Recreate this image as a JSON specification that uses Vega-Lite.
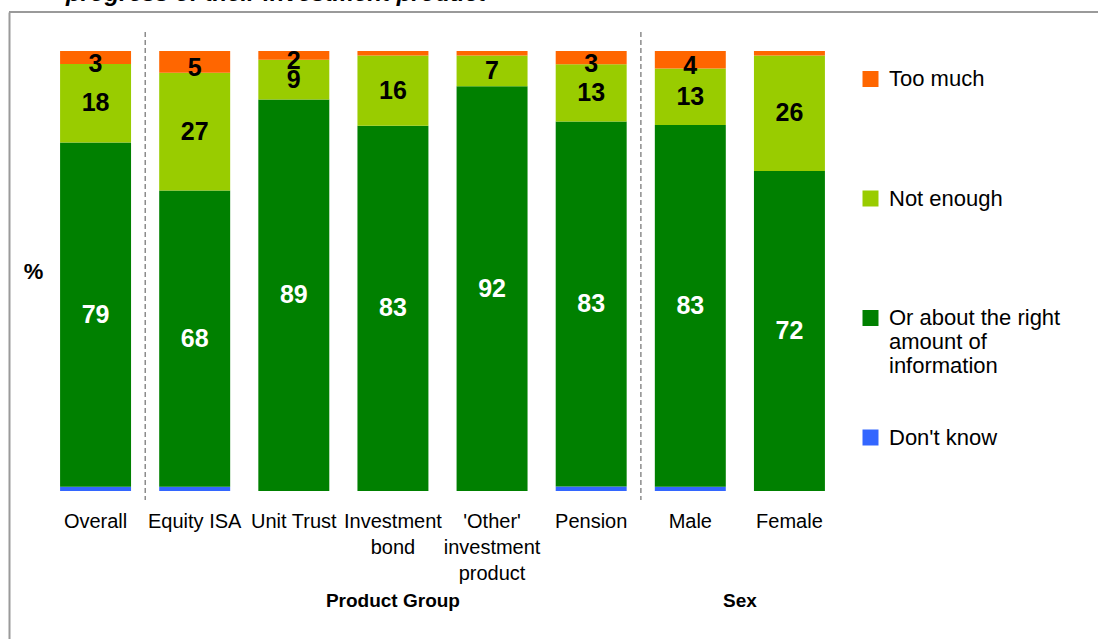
{
  "$schema": "https://vega.github.io/schema/vega-lite/v6.json",
  "width": 1089,
  "height": 627,
  "autosize": {"type": "none"},
  "padding": {"left": 9, "top": 12, "right": 0, "bottom": 0},
  "background": "white",
  "title": {
    "text": "progress of their investment product",
    "anchor": "start",
    "frame": "group",
    "offset": 0,
    "dx": 57,
    "dy": 14,
    "baseline": "alphabetic",
    "font": "Liberation Sans",
    "fontSize": 24,
    "fontStyle": "italic",
    "fontWeight": "bold",
    "color": "black"
  },
  "config": {
    "font": "Liberation Sans",
    "view": {"stroke": null}
  },
  "datasets": {
    "answers": [
      {"group": "Overall", "response": "Don't know", "v": 1},
      {"group": "Overall", "response": "Or about the right amount of information", "v": 79},
      {"group": "Overall", "response": "Not enough", "v": 18},
      {"group": "Overall", "response": "Too much", "v": 3},
      {"group": "Equity ISA", "response": "Don't know", "v": 1},
      {"group": "Equity ISA", "response": "Or about the right amount of information", "v": 68},
      {"group": "Equity ISA", "response": "Not enough", "v": 27},
      {"group": "Equity ISA", "response": "Too much", "v": 5},
      {"group": "Unit Trust", "response": "Don't know", "v": 0},
      {"group": "Unit Trust", "response": "Or about the right amount of information", "v": 89},
      {"group": "Unit Trust", "response": "Not enough", "v": 9},
      {"group": "Unit Trust", "response": "Too much", "v": 2},
      {"group": "Investment bond", "response": "Don't know", "v": 0},
      {"group": "Investment bond", "response": "Or about the right amount of information", "v": 83},
      {"group": "Investment bond", "response": "Not enough", "v": 16},
      {"group": "Investment bond", "response": "Too much", "v": 1},
      {"group": "'Other' investment product", "response": "Don't know", "v": 0},
      {"group": "'Other' investment product", "response": "Or about the right amount of information", "v": 92},
      {"group": "'Other' investment product", "response": "Not enough", "v": 7},
      {"group": "'Other' investment product", "response": "Too much", "v": 1},
      {"group": "Pension", "response": "Don't know", "v": 1},
      {"group": "Pension", "response": "Or about the right amount of information", "v": 83},
      {"group": "Pension", "response": "Not enough", "v": 13},
      {"group": "Pension", "response": "Too much", "v": 3},
      {"group": "Male", "response": "Don't know", "v": 1},
      {"group": "Male", "response": "Or about the right amount of information", "v": 83},
      {"group": "Male", "response": "Not enough", "v": 13},
      {"group": "Male", "response": "Too much", "v": 4},
      {"group": "Female", "response": "Don't know", "v": 0},
      {"group": "Female", "response": "Or about the right amount of information", "v": 72},
      {"group": "Female", "response": "Not enough", "v": 26},
      {"group": "Female", "response": "Too much", "v": 1}
    ],
    "dividers": [{"group": "Overall"}, {"group": "Pension"}],
    "productHeading": [{"group": "Investment bond", "label": "Product Group"}],
    "sexHeading": [{"group": "Male", "label": "Sex"}]
  },
  "resolve": {"scale": {"color": "independent"}},
  "layer": [
    {
      "data": {"values": [{}]},
      "mark": {"type": "rule", "color": "#9a9a9a", "strokeWidth": 2},
      "encoding": {
        "y": {"datum": 1.08864, "type": "quantitative", "scale": {"domain": [-0.33636, 1.08864], "nice": false, "zero": false}}
      }
    },
    {
      "data": {"name": "dividers"},
      "mark": {"type": "rule", "color": "#8c8c8c", "strokeWidth": 1.5, "strokeDash": [5, 3]},
      "encoding": {
        "x": {"field": "group", "type": "nominal", "bandPosition": 1.2},
        "y": {"datum": 1.04318, "type": "quantitative"},
        "y2": {"datum": -0.02045}
      }
    },
    {
      "data": {"name": "answers"},
      "transform": [
        {"calculate": "indexof([\"Don't know\", \"Or about the right amount of information\", \"Not enough\", \"Too much\"], datum.response)", "as": "stackOrder"}
      ],
      "mark": {"type": "bar"},
      "encoding": {
        "x": {
          "field": "group",
          "type": "nominal",
          "sort": null,
          "scale": {
            "domain": ["Overall", "Equity ISA", "Unit Trust", "Investment bond", "'Other' investment product", "Pension", "Male", "Female"],
            "range": [37, 830],
            "paddingInner": 0.284,
            "paddingOuter": 0.142
          },
          "axis": {
            "title": null,
            "orient": "bottom",
            "offset": -118,
            "domain": false,
            "ticks": false,
            "grid": false,
            "labelPadding": 0,
            "labelAngle": 0,
            "labelAlign": "center",
            "labelFontSize": 20,
            "labelColor": "black",
            "labelLineHeight": 26,
            "labelOverlap": false,
            "labelExpr": "datum.label === 'Investment bond' ? ['Investment', 'bond'] : datum.label === \"'Other' investment product\" ? [\"'Other'\", 'investment', 'product'] : datum.label"
          }
        },
        "y": {
          "field": "v",
          "type": "quantitative",
          "stack": "normalize",
          "scale": {"domain": [-0.33636, 1.08864], "nice": false, "zero": false},
          "axis": {
            "title": "%",
            "domain": true,
            "domainColor": "#9a9a9a",
            "domainWidth": 2,
            "ticks": false,
            "labels": false,
            "grid": false,
            "titleAngle": 0,
            "titleX": 24,
            "titleY": 259,
            "titleAlign": "center",
            "titleBaseline": "middle",
            "titleFontSize": 22,
            "titleFontWeight": "bold",
            "titleColor": "black"
          }
        },
        "order": {"field": "stackOrder", "type": "quantitative", "sort": "ascending"},
        "color": {
          "field": "response",
          "type": "nominal",
          "sort": ["Don't know", "Or about the right amount of information", "Not enough", "Too much"],
          "scale": {"range": ["#3366FF", "#008000", "#99CC00", "#FF6600"]},
          "legend": {
            "orient": "none",
            "legendX": 850.5,
            "legendY": 56,
            "title": null,
            "padding": 0,
            "values": ["Too much", "Not enough", "Or about the right amount of information", "Don't know"],
            "symbolType": "square",
            "symbolSize": 256,
            "symbolStrokeWidth": 0,
            "labelFontSize": 22,
            "labelColor": "black",
            "labelOffset": 7.5,
            "labelLimit": 400,
            "labelLineHeight": 25,
            "rowPadding": 1.5,
            "labelExpr": "datum.label === 'Or about the right amount of information' ? ['Or about the right', 'amount of', 'information', '', ''] : [datum.label, '', '', '', '']"
          }
        }
      }
    },
    {
      "data": {"name": "answers"},
      "transform": [
        {"calculate": "indexof([\"Don't know\", \"Or about the right amount of information\", \"Not enough\", \"Too much\"], datum.response)", "as": "stackOrder"}
      ],
      "mark": {"type": "text", "fontSize": 25, "fontWeight": "bold", "baseline": "middle"},
      "encoding": {
        "x": {"field": "group", "type": "nominal"},
        "y": {"field": "v", "type": "quantitative", "stack": "normalize", "bandPosition": 0.5},
        "order": {"field": "stackOrder", "type": "quantitative", "sort": "ascending"},
        "color": {
          "field": "response",
          "type": "nominal",
          "sort": ["Don't know", "Or about the right amount of information", "Not enough", "Too much"],
          "scale": {"range": ["black", "white", "black", "black"]},
          "legend": null
        },
        "text": {
          "condition": {"test": "datum.v < 2 || datum.response === 'Too much'", "value": ""},
          "field": "v",
          "type": "quantitative"
        }
      }
    },
    {
      "data": {"name": "answers"},
      "transform": [
        {"calculate": "indexof([\"Don't know\", \"Or about the right amount of information\", \"Not enough\", \"Too much\"], datum.response)", "as": "stackOrder"}
      ],
      "mark": {"type": "text", "fontSize": 25, "fontWeight": "bold", "baseline": "middle", "dy": 6},
      "encoding": {
        "x": {"field": "group", "type": "nominal"},
        "y": {"field": "v", "type": "quantitative", "stack": "normalize", "bandPosition": 0.5},
        "order": {"field": "stackOrder", "type": "quantitative", "sort": "ascending"},
        "color": {
          "field": "response",
          "type": "nominal",
          "sort": ["Don't know", "Or about the right amount of information", "Not enough", "Too much"],
          "scale": {"range": ["black", "white", "black", "black"]},
          "legend": null
        },
        "text": {
          "condition": {"test": "datum.v < 2 || datum.response !== 'Too much'", "value": ""},
          "field": "v",
          "type": "quantitative"
        }
      }
    },
    {
      "data": {"name": "productHeading"},
      "mark": {"type": "text", "fontSize": 19, "fontWeight": "bold", "baseline": "middle", "color": "black"},
      "encoding": {
        "x": {"field": "group", "type": "nominal", "bandPosition": 0.5},
        "y": {"datum": -0.25, "type": "quantitative"},
        "text": {"field": "label"}
      }
    },
    {
      "data": {"name": "sexHeading"},
      "mark": {"type": "text", "fontSize": 19, "fontWeight": "bold", "baseline": "middle", "color": "black"},
      "encoding": {
        "x": {"field": "group", "type": "nominal", "bandPosition": 1.2},
        "y": {"datum": -0.25, "type": "quantitative"},
        "text": {"field": "label"}
      }
    }
  ]
}
